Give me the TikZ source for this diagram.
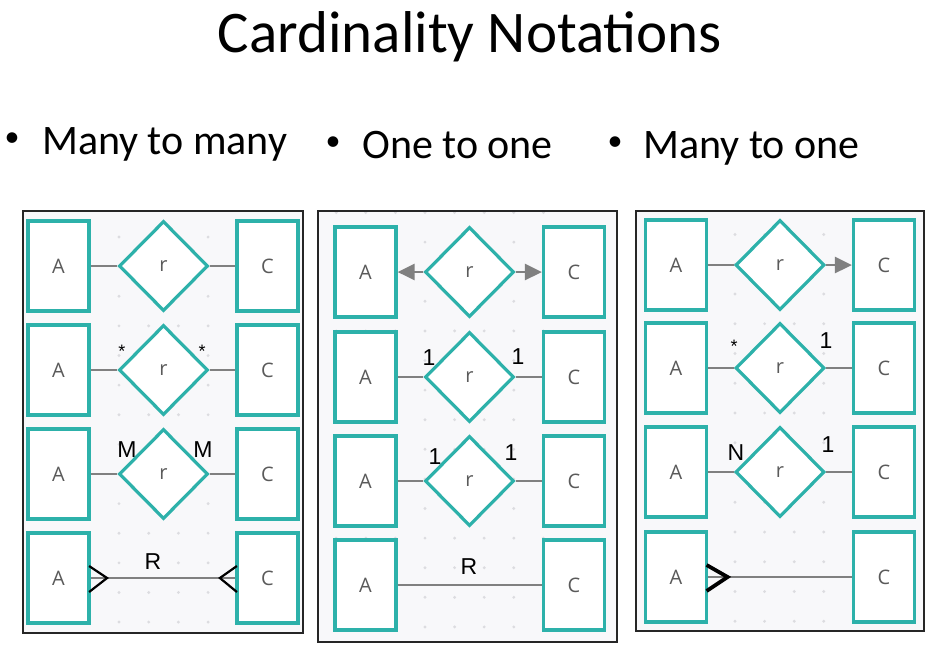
\documentclass[tikz,border=0pt]{standalone}
\usepackage{fontspec}
\setmainfont{Carlito}
\newfontfamily\erfont{Open Sans}
\newfontfamily\lblfont{Liberation Sans}
\usetikzlibrary{shapes.geometric,arrows.meta,calc}
\definecolor{tealc}{HTML}{2DB1AA}
\definecolor{linegray}{HTML}{808080}
\definecolor{txtgray}{HTML}{5A5A5A}
\definecolor{panelbg}{HTML}{F8F8FA}
\definecolor{dotc}{HTML}{DCDCE0}
\begin{document}
\begin{tikzpicture}[x=1pt,y=-1pt,
  ent/.style={draw=tealc,line width=3.2pt,fill=white,minimum width=61pt,minimum height=90pt,inner sep=0pt,
    font=\erfont\fontsize{20}{22}\selectfont,text=txtgray},
  rel/.style={diamond,draw=tealc,line width=3.2pt,fill=white,minimum width=89pt,minimum height=90pt,inner sep=0pt,
    font=\erfont\fontsize{20}{22}\selectfont,text=txtgray},
  conn/.style={draw=linegray,line width=2.8pt},
  arr/.style={conn,-{Triangle[length=17pt,width=16pt]},fill=linegray},
  card/.style={font=\lblfont\fontsize{23}{25}\selectfont,inner sep=0pt,anchor=base},
  starlbl/.style={font=\lblfont\fontsize{18}{20}\selectfont,inner sep=0pt,anchor=base},
  crow/.style={draw=black,line width=2.2pt},
  crowbold/.style={draw=black,line width=3.8pt},
  panelfill/.style={fill=panelbg},
  panelline/.style={draw=black!85,line width=1.3pt},
  bul/.style={font=\fontsize{42}{46}\selectfont,inner sep=0pt,anchor=base west},
  bulletdot/.style={font=\fontsize{30}{34}\selectfont,inner sep=0pt,anchor=base},
]
\useasboundingbox (0,0) rectangle (936,649);
\fill[white] (0,0) rectangle (936,649);

% title and bullets
\node[font=\fontsize{59}{63}\selectfont,inner sep=0pt,anchor=base] (title) at (470,52) {Cardinality Notations};
\node[bulletdot] (bu1) at (12,146.5) {•};
\node[bul] (t1) at (42,154) {Many to many};
\node[bulletdot] (bu2) at (333,150.5) {•};
\node[bul] (t2) at (362,158) {One to one};
\node[bulletdot] (bu3) at (615,150.5) {•};
\node[bul] (t3) at (643,158) {Many to one};

% panels
\fill[panelfill] (23,211) rectangle (303,633);
\fill[panelfill] (318,211) rectangle (617,642);
\fill[panelfill] (636,211) rectangle (924,631);

\begin{scope}
\clip (23,211) rectangle (303,633);
\foreach \i in {-4,...,4} \foreach \j in {0,...,15}
  \fill[dotc] ({119+29.7*\i},{207.4+29.62*\j}) circle (1.6);
\end{scope}
\begin{scope}
\clip (318,211) rectangle (617,642);
\foreach \i in {-4,...,4} \foreach \j in {0,...,15}
  \fill[dotc] ({425+29.6*\i},{212.5+29.6*\j}) circle (1.6);
\end{scope}
\begin{scope}
\clip (636,211) rectangle (924,631);
\foreach \i in {-4,...,4} \foreach \j in {-1,...,15}
  \fill[dotc] ({735+29.6*\i},{234.5+29.75*\j}) circle (1.6);
\end{scope}

\draw[panelline] (23,211) rectangle (303,633);
\draw[panelline] (318,211) rectangle (617,642);
\draw[panelline] (636,211) rectangle (924,631);

% ---------- panel 1: many to many
\node[ent] (a11) at (58.5,266) {A};
\node[rel] (r11) at (163.5,266) {r};
\node[ent] (c11) at (267.5,266) {C};
\draw[conn] (a11) -- (r11);
\draw[conn] (r11) -- (c11);

\node[ent] (a12) at (58.5,370) {A};
\node[rel] (r12) at (163.5,370) {r};
\node[ent] (c12) at (267.5,370) {C};
\draw[conn] (a12) -- (r12);
\draw[conn] (r12) -- (c12);
\node[starlbl] (s121) at (122,357) {*};
\node[starlbl] (s122) at (202,357) {*};

\node[ent] (a13) at (58.5,474) {A};
\node[rel] (r13) at (163.5,474) {r};
\node[ent] (c13) at (267.5,474) {C};
\draw[conn] (a13) -- (r13);
\draw[conn] (r13) -- (c13);
\node[card] (m131) at (127,457) {M};
\node[card] (m132) at (203,457) {M};

\node[ent] (a14) at (58.5,578) {A};
\node[ent] (c14) at (267.5,578) {C};
\draw[conn] (a14) -- (c14);
\node[card] (rl14) at (153,569) {R};
\draw[crow] ($(a14.east)+(-1.5,-12)$) -- ($(a14.east)+(16.5,0)$) -- ($(a14.east)+(-1.5,14)$);
\draw[crow] ($(c14.west)+(1.5,-12)$) -- ($(c14.west)+(-15.5,0)$) -- ($(c14.west)+(1.5,14)$);

% ---------- panel 2: one to one
\node[ent] (a21) at (365.5,272) {A};
\node[rel] (r21) at (469.5,272) {r};
\node[ent] (c21) at (574,272) {C};
\draw[arr] (r21) -- (a21);
\draw[arr] (r21) -- (c21);

\node[ent] (a22) at (365.5,377) {A};
\node[rel] (r22) at (469.5,377) {r};
\node[ent] (c22) at (574,377) {C};
\draw[conn] (a22) -- (r22);
\draw[conn] (r22) -- (c22);
\node[card] (o221) at (429,365) {1};
\node[card] (o222) at (518,364) {1};

\node[ent] (a23) at (365.5,481) {A};
\node[rel] (r23) at (469.5,481) {r};
\node[ent] (c23) at (574,481) {C};
\draw[conn] (a23) -- (r23);
\draw[conn] (r23) -- (c23);
\node[card] (o231) at (435,464) {1};
\node[card] (o232) at (511,460) {1};

\node[ent] (a24) at (365.5,585) {A};
\node[ent] (c24) at (574,585) {C};
\draw[conn] (a24) -- (c24);
\node[card] (rl24) at (469,574) {R};

% ---------- panel 3: many to one
\node[ent] (a31) at (676,265) {A};
\node[rel] (r31) at (780,265) {r};
\node[ent] (c31) at (884,265) {C};
\draw[conn] (a31) -- (r31);
\draw[arr] (r31) -- (c31);

\node[ent] (a32) at (676,368) {A};
\node[rel] (r32) at (780,368) {r};
\node[ent] (c32) at (884,368) {C};
\draw[conn] (a32) -- (r32);
\draw[conn] (r32) -- (c32);
\node[starlbl] (s321) at (734,352) {*};
\node[card] (o322) at (826,348) {1};

\node[ent] (a33) at (676,472) {A};
\node[rel] (r33) at (780,472) {r};
\node[ent] (c33) at (884,472) {C};
\draw[conn] (a33) -- (r33);
\draw[conn] (r33) -- (c33);
\node[card] (n331) at (736,460) {N};
\node[card] (o332) at (828,452) {1};

\node[ent] (a34) at (676,577) {A};
\node[ent] (c34) at (884,577) {C};
\draw[conn] (a34) -- (c34);
\draw[crowbold] ($(a34.east)+(-1.5,-12)$) -- ($(a34.east)+(19.5,0)$) -- ($(a34.east)+(-1.5,14)$);
\end{tikzpicture}
\end{document}
